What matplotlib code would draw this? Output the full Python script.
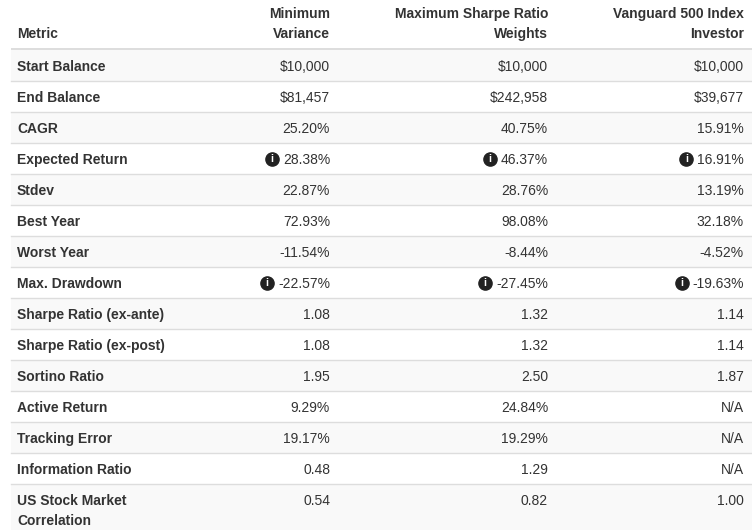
import matplotlib
matplotlib.use("Agg")
import matplotlib.pyplot as plt
from matplotlib.patches import Rectangle

plt.rcParams['font.family'] = ['Liberation Sans', 'DejaVu Sans']

columns = ["Metric", "Minimum\nVariance", "Maximum Sharpe Ratio\nWeights", "Vanguard 500 Index\nInvestor"]
metrics = ["Start Balance", "End Balance", "CAGR", "Expected Return", "Stdev", "Best Year",
           "Worst Year", "Max. Drawdown", "Sharpe Ratio (ex-ante)", "Sharpe Ratio (ex-post)",
           "Sortino Ratio", "Active Return", "Tracking Error", "Information Ratio",
           "US Stock Market\nCorrelation"]
min_variance = ["$10,000", "$81,457", "25.20%", "28.38%", "22.87%", "72.93%", "-11.54%", "-22.57%",
                "1.08", "1.08", "1.95", "9.29%", "19.17%", "0.48", "0.54"]
max_sharpe = ["$10,000", "$242,958", "40.75%", "46.37%", "28.76%", "98.08%", "-8.44%", "-27.45%",
              "1.32", "1.32", "2.50", "24.84%", "19.29%", "1.29", "0.82"]
vanguard = ["$10,000", "$39,677", "15.91%", "16.91%", "13.19%", "32.18%", "-4.52%", "-19.63%",
            "1.14", "1.14", "1.87", "N/A", "N/A", "N/A", "1.00"]
info_rows = ["Expected Return", "Max. Drawdown"]

W, H = 752, 530
fig = plt.figure(figsize=(W / 100, H / 100), dpi=100)
ax = fig.add_axes([0, 0, 1, 1])
ax.set_xlim(0, W)
ax.set_ylim(H, 0)
ax.axis('off')

text_color = '#333333'
line_color = '#dddddd'
left = 11
right = W
header_bottom = 49
row_h = 31
fs = 10
col_right = [None, 330, 548, 744]

# header, two lines 20px apart
ax.text(17, 38, columns[0], ha='left', va='baseline', fontsize=fs, fontweight='bold', color=text_color)
for c in range(1, 4):
    for k, ln in enumerate(columns[c].split("\n")):
        ax.text(col_right[c], 18 + 20 * k, ln, ha='right', va='baseline', fontsize=fs,
                fontweight='bold', color=text_color)
ax.add_patch(Rectangle((left, header_bottom - 1.5), right - left, 2.5, color=line_color, lw=0))

renderer = fig.canvas.get_renderer()

for i, name in enumerate(metrics):
    top = header_bottom + 1 + i * row_h
    h = row_h if i < len(metrics) - 1 else H - top
    if i % 2 == 0:
        ax.add_patch(Rectangle((left, top), right - left, h, color='#f9f9f9', lw=0, zorder=0))
    if i > 0:
        ax.plot([left, right], [top, top], color=line_color, lw=1, zorder=1)
    base = top + 21
    for k, ln in enumerate(name.split("\n")):
        ax.text(17, base + 20 * k, ln, ha='left', va='baseline', fontsize=fs, fontweight='bold',
                color=text_color)
    for c, vals in zip(range(1, 4), [min_variance, max_sharpe, vanguard]):
        t = ax.text(col_right[c], base, vals[i], ha='right', va='baseline', fontsize=fs, color=text_color)
        if name in info_rows:
            bb = t.get_window_extent(renderer)
            cx = bb.x0 - 11
            cy = base - 5
            ax.plot([cx], [cy], marker='o', ms=9.5, color='#222222', mec='#222222', zorder=3)
            ax.text(cx, cy + 0.5, "i", ha='center', va='center', fontsize=7.5, fontweight='bold',
                    color='white', zorder=4)

fig.savefig("out.png", dpi=100)
